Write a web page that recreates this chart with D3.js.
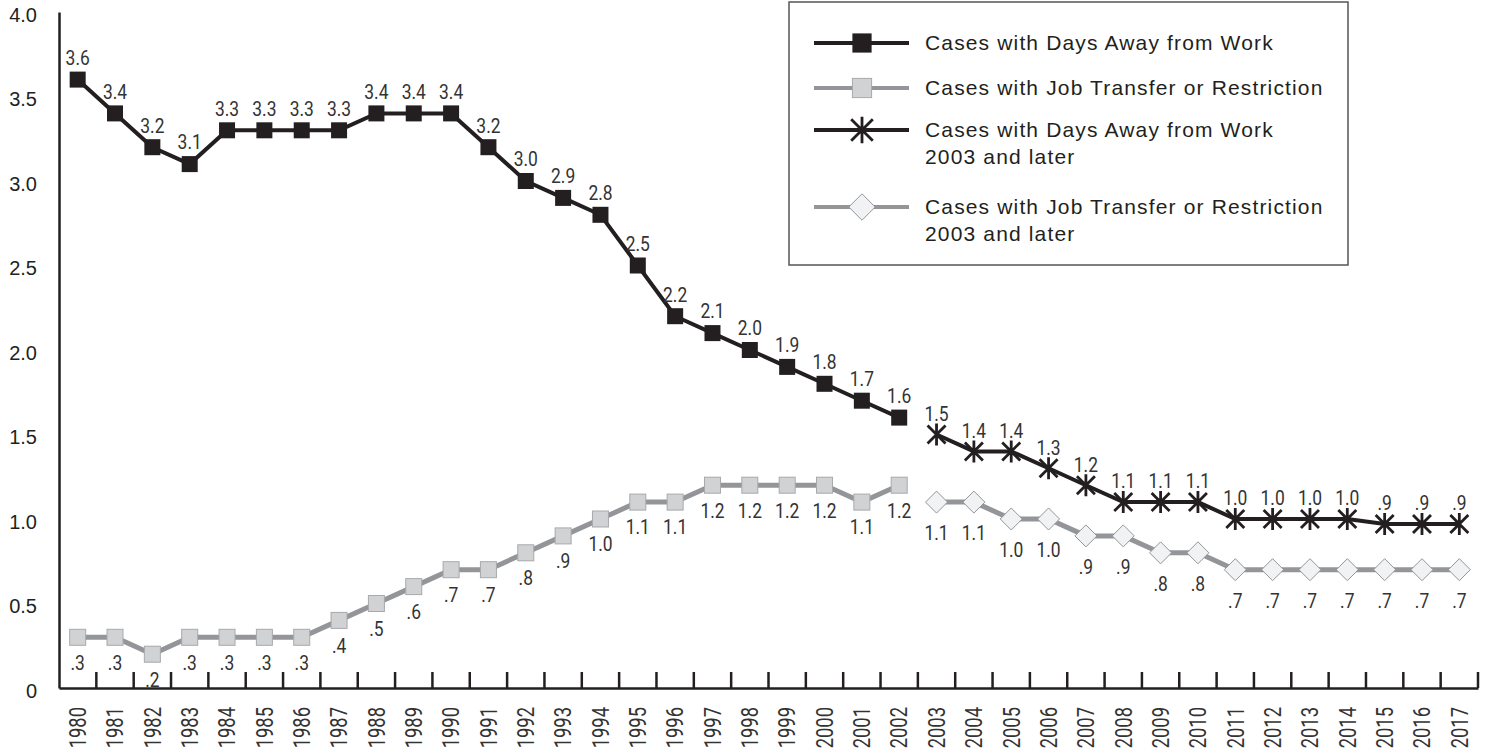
<!DOCTYPE html>
<html>
<head>
<meta charset="utf-8">
<script src="https://cdn.jsdelivr.net/npm/d3@7/dist/d3.min.js"></script>
<style>
    body { margin: 0; background: #fff; }
    svg { display: block; }
    .lbl { font-family: Roboto, "Liberation Sans", sans-serif; font-weight: 400; fill: #333; }
    .sans { font-family: "Liberation Sans", Arial, sans-serif; fill: #231f20; }
</style>
</head>
<body>
<div id="chartDiv"></div>
<script>
'use strict';

const YEARS = ['1980','1981','1982','1983','1984','1985','1986','1987','1988','1989',
    '1990','1991','1992','1993','1994','1995','1996','1997','1998','1999',
    '2000','2001','2002','2003','2004','2005','2006','2007','2008','2009',
    '2010','2011','2012','2013','2014','2015','2016','2017'];

// 1980 - 2002
const DAYS_AWAY = [3.6,3.4,3.2,3.1,3.3,3.3,3.3,3.3,3.4,3.4,3.4,3.2,3.0,2.9,2.8,2.5,2.2,2.1,2.0,1.9,1.8,1.7,1.6];
const JOB_TRANSFER = [0.3,0.3,0.2,0.3,0.3,0.3,0.3,0.4,0.5,0.6,0.7,0.7,0.8,0.9,1.0,1.1,1.1,1.2,1.2,1.2,1.2,1.1,1.2];

// 2003 and later
const DAYS_AWAY_NEW = [1.5,1.4,1.4,1.3,1.2,1.1,1.1,1.1,1.0,1.0,1.0,1.0,0.97,0.97,0.97];
const JOB_TRANSFER_NEW = [1.1,1.1,1.0,1.0,0.9,0.9,0.8,0.8,0.7,0.7,0.7,0.7,0.7,0.7,0.7];

const Y_TICKS = [0, 0.5, 1, 1.5, 2, 2.5, 3, 3.5, 4];
const Y_TICK_LABELS = ['0','0.5','1.0','1.5','2.0','2.5','3.0','3.5','4.0'];

const LEGEND_LABELS = [
    ['Cases with Days Away from Work'],
    ['Cases with Job Transfer or Restriction'],
    ['Cases with Days Away from Work', '2003 and later'],
    ['Cases with Job Transfer or Restriction', '2003 and later']
];

const WIDTH = 1491, HEIGHT = 751;
const DARK = '#231f20', GREY_LINE = '#939598';

const svg = d3.select('#chartDiv').append('svg')
    .attr('width', WIDTH)
    .attr('height', HEIGHT);

const xScale = d3.scaleBand().domain(YEARS).range([59, 1478]);
const yScale = d3.scaleLinear().domain([0, 4]).range([688, 12]);
const cx = d => xScale(d.year) + xScale.bandwidth() / 2;

// one decimal, truncated, leading zero dropped
const fmt = v => {
    const t = Math.floor(v * 10 + 1e-6) / 10;
    return t < 1 ? '.' + Math.round(t * 10) : t.toFixed(1);
};

const toPoints = (vals, offset) => vals.map((v, i) => ({ year: YEARS[i + offset], value: v }));

const series = [
    { data: toPoints(DAYS_AWAY, 0), color: DARK, width: 4, marker: 'square', labelDy: -22 },
    { data: toPoints(JOB_TRANSFER, 0), color: GREY_LINE, width: 5, marker: 'greySquare', labelDy: 25 },
    { data: toPoints(DAYS_AWAY_NEW, 23), color: DARK, width: 4, marker: 'star', labelDy: -21 },
    { data: toPoints(JOB_TRANSFER_NEW, 23), color: GREY_LINE, width: 5, marker: 'diamond', labelDy: 31 }
];

// axes
const yAxis = svg.append('g').attr('transform', 'translate(59,0)')
    .call(d3.axisLeft(yScale).tickValues(Y_TICKS).tickSize(0).tickPadding(22)
        .tickFormat((d, i) => Y_TICK_LABELS[i]));
yAxis.select('.domain').attr('stroke', DARK).attr('stroke-width', 2.5);
yAxis.selectAll('text').attr('class', 'sans').attr('font-size', 20).attr('fill', DARK)
    .attr('dy', '0.45em');

const xAxis = svg.append('g').attr('transform', 'translate(0,688)')
    .call(d3.axisBottom(xScale).tickSize(0).tickPadding(0));
xAxis.select('.domain').attr('stroke', DARK).attr('stroke-width', 2.5);
xAxis.selectAll('.tick text')
    .attr('class', 'lbl')
    .attr('font-size', 23)
    .attr('fill', DARK)
    .attr('text-anchor', 'end')
    .attr('transform', 'translate(0,19) rotate(-90) scale(0.8,1)')
    .attr('dy', '0.36em')
    .attr('y', 0);

// boundary ticks pointing up
svg.append('g').selectAll('line')
    .data(YEARS)
    .join('line')
    .attr('x1', d => xScale(d) + xScale.step())
    .attr('x2', d => xScale(d) + xScale.step())
    .attr('y1', 688)
    .attr('y2', 672)
    .attr('stroke', DARK)
    .attr('stroke-width', 2.5);

// markers
const drawMarker = (g, type, size) => {
    const s = size || 1;
    if (type === 'square') {
        g.append('rect').attr('x', -8 * s).attr('y', -8 * s).attr('width', 16 * s).attr('height', 16 * s)
            .attr('fill', DARK);
    } else if (type === 'greySquare') {
        g.append('rect').attr('x', -8 * s).attr('y', -8 * s).attr('width', 16 * s).attr('height', 16 * s)
            .attr('fill', '#d1d2d4').attr('stroke', '#a7a9ac').attr('stroke-width', 1);
    } else if (type === 'diamond') {
        const r = 11 * s;
        g.append('path').attr('d', `M0,${-r}L${r},0L0,${r}L${-r},0Z`)
            .attr('fill', '#f1f2f3').attr('stroke', '#939598').attr('stroke-width', 1);
    } else if (type === 'star') {
        const r = 11 * s, d = 9 * s;
        g.append('path').attr('d', `M0,${-r}L0,${r}M${-d},${-d}L${d},${d}M${d},${-d}L${-d},${d}`)
            .attr('stroke', DARK).attr('stroke-width', 2.8).attr('fill', 'none');
    }
};

const line = d3.line().x(cx).y(d => yScale(d.value));

series.forEach(s => {
    svg.append('path')
        .datum(s.data)
        .attr('d', line)
        .attr('fill', 'none')
        .attr('stroke', s.color)
        .attr('stroke-width', s.width)
        .attr('stroke-linejoin', 'miter');
});

series.forEach(s => {
    svg.append('g').selectAll('g')
        .data(s.data)
        .join('g')
        .attr('transform', d => `translate(${cx(d)},${yScale(d.value)})`)
        .each(function() { drawMarker(d3.select(this), s.marker); });

    svg.append('g').selectAll('text')
        .data(s.data)
        .join('text')
        .attr('class', 'lbl')
        .attr('font-size', 20.5)
        .attr('text-anchor', 'middle')
        .attr('transform', d => `translate(${cx(d)},${yScale(d.value) + s.labelDy}) scale(0.85,1)`)
        .attr('dy', '0.36em')
        .text(d => fmt(d.value));
});

// legend
const legend = svg.append('g');
legend.append('rect')
    .attr('x', 789).attr('y', 2).attr('width', 559).attr('height', 263)
    .attr('fill', '#fff').attr('stroke', '#555').attr('stroke-width', 1.5);

const legendRows = [43, 88, 130, 207];
series.forEach((s, i) => {
    const y = legendRows[i];
    legend.append('line')
        .attr('x1', 814).attr('x2', 909).attr('y1', y).attr('y2', y)
        .attr('stroke', s.color).attr('stroke-width', 4);
    const m = legend.append('g').attr('transform', `translate(862,${y})`);
    drawMarker(m, s.marker, 1.2);
    LEGEND_LABELS[i].forEach((t, j) => {
        legend.append('text')
            .attr('class', 'sans')
            .attr('font-size', 21)
            .attr('letter-spacing', 1.15)
            .attr('x', 925)
            .attr('y', y + j * 27)
            .attr('dy', '0.35em')
            .text(t);
    });
});
</script>
</body>
</html>
